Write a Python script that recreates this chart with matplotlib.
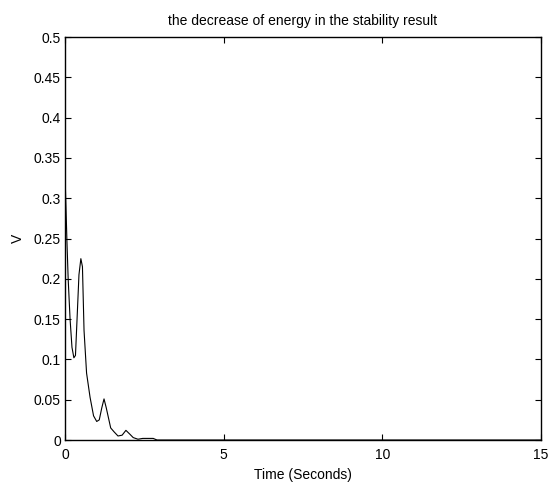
import matplotlib
matplotlib.use("Agg")
import matplotlib.pyplot as plt

plt.rcParams['font.family'] = ['Liberation Sans', 'DejaVu Sans']

# values
time_s = [0.0, 0.03, 0.06, 0.1, 0.16, 0.22, 0.28, 0.33, 0.38, 0.44, 0.5, 0.55,
          0.6, 0.68, 0.79, 0.9, 1.0, 1.08, 1.16, 1.23, 1.3, 1.44, 1.55, 1.67,
          1.8, 1.92, 2.05, 2.15, 2.3, 2.45, 2.6, 2.78, 2.9, 15.0]
energy = [0.33, 0.29, 0.248, 0.2, 0.15, 0.115, 0.102, 0.105, 0.15, 0.205, 0.225, 0.215,
          0.136, 0.083, 0.053, 0.03, 0.023, 0.025, 0.04, 0.051, 0.04, 0.015, 0.01, 0.005,
          0.006, 0.012, 0.007, 0.003, 0.001, 0.002, 0.002, 0.002, 0.0, 0.0]

x_ticks = [0, 5, 10, 15]
y_ticks = [0, 0.05, 0.1, 0.15, 0.2, 0.25, 0.3, 0.35, 0.4, 0.45, 0.5]
y_labels = ["0", "0.05", "0.1", "0.15", "0.2", "0.25", "0.3", "0.35", "0.4", "0.45", "0.5"]

fig = plt.figure(figsize=(5.48, 4.82), dpi=100)
ax = fig.add_axes([0.1186, 0.0871, 0.8686, 0.8361])
ax.plot(time_s, energy, color='black', linewidth=0.8)

ax.set_xlim(0, 15)
ax.set_ylim(0, 0.5)
ax.set_xticks(x_ticks)
ax.set_yticks(y_ticks)
ax.set_yticklabels(y_labels)
ax.tick_params(direction='in', top=True, right=True, labelsize=10, length=4, pad=3)
ax.tick_params(axis='x', pad=6)
for s in ax.spines.values():
    s.set_linewidth(1.0)

ax.set_title("the decrease of energy in the stability result", fontsize=10, pad=9)
ax.set_xlabel("Time (Seconds)", fontsize=10, labelpad=4)
ax.set_ylabel("V", fontsize=10, labelpad=6)

fig.savefig("out.png", dpi=100)
